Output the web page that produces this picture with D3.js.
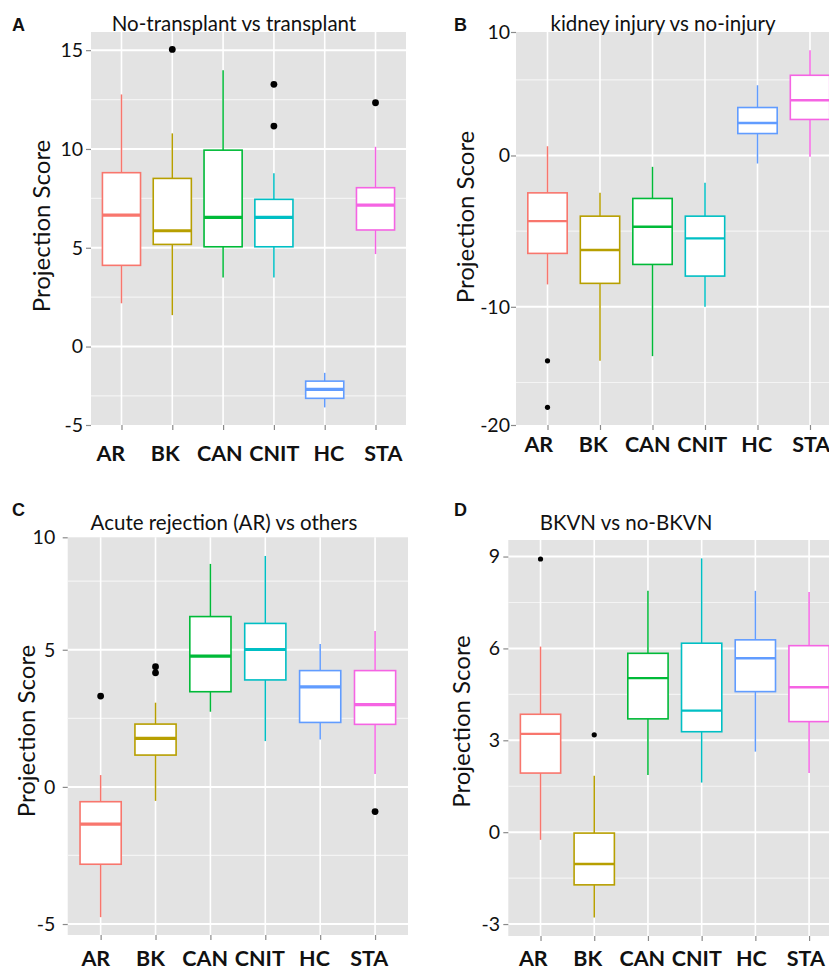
<!DOCTYPE html>
<html><head><meta charset="utf-8">
<script src="https://cdn.jsdelivr.net/npm/d3@7"></script>
<style>
body{margin:0;background:#fff}
svg{display:block}
text{font-family:Lato,"Open Sans",sans-serif;fill:#111}
</style>
</head><body>
<svg id="chart" width="829" height="970"></svg>
<script>
// ---------------- data ----------------
const categories = ["AR", "BK", "CAN", "CNIT", "HC", "STA"];
const groupColors = ["#F8766D", "#B79F00", "#00BA38", "#00BFC4", "#619CFF", "#F564E3"];
const panelLetters = ["A", "B", "C", "D"];
const panelTitles = ["No-transplant vs transplant", "kidney injury vs no-injury",
                     "Acute rejection (AR) vs others", "BKVN vs no-BKVN"];
const yAxisTitle = "Projection Score";

const yTicksA = [15, 10, 5, 0, -5];
const yTicksB = [10, 0, -10, -20];
const yTicksC = [10, 5, 0, -5];
const yTicksD = [9, 6, 3, 0, -3];

// [lower whisker, Q1, median, Q3, upper whisker] per category
const boxesA = [
  [2.19, 4.11, 6.65, 8.80, 12.76],
  [1.59, 5.17, 5.86, 8.51, 10.79],
  [3.50, 5.05, 6.54, 9.94, 13.99],
  [3.50, 5.05, 6.54, 7.45, 8.77],
  [-3.08, -2.62, -2.17, -1.75, -1.33],
  [4.68, 5.90, 7.16, 8.04, 10.11]];
const outliersA = [["BK", 15.04], ["CNIT", 13.27], ["CNIT", 11.16], ["STA", 12.34]];

const boxesB = [
  [-8.52, -6.47, -4.34, -2.47, 0.61],
  [-13.57, -8.45, -6.25, -4.01, -2.47],
  [-13.26, -7.20, -4.71, -2.84, -0.75],
  [-10.00, -7.97, -5.48, -4.01, -1.81],
  [-0.53, 1.45, 2.15, 3.17, 4.64],
  [-0.09, 2.38, 3.65, 5.30, 6.96]];
const outliersB = [["AR", -13.57], ["AR", -16.64]];

const boxesC = [
  [-4.75, -2.82, -1.36, -0.54, 0.43],
  [-0.51, 1.16, 1.77, 2.29, 3.07],
  [2.74, 3.47, 4.77, 6.21, 8.13],
  [1.67, 3.90, 5.01, 5.96, 8.42],
  [1.73, 2.35, 3.65, 4.24, 5.21],
  [0.47, 2.28, 3.00, 4.24, 5.68]];
const outliersC = [["AR", 3.31], ["BK", 4.38], ["BK", 4.16], ["STA", -0.90]];

const boxesD = [
  [-0.25, 1.93, 3.21, 3.85, 6.06],
  [-2.79, -1.72, -1.04, -0.03, 1.84],
  [1.87, 3.70, 5.03, 5.84, 7.88],
  [1.62, 3.28, 3.97, 6.17, 8.94],
  [2.63, 4.59, 5.68, 6.28, 7.88],
  [1.93, 3.61, 4.73, 6.09, 7.84]];
const outliersD = [["AR", 8.92], ["BK", 3.18]];

// ---------------- layout ----------------
const panels = [
  {boxes: boxesA, outliers: outliersA, ticks: yTicksA,
   x0: 91, x1: 406, y0: 32, y1: 425, dom: [-3.97, 15.92],
   letter: [12, 30.5], title: [234, 30.5], ytitle: [49.5, 226], tickPad: 3,
   lab: [110.8, 383.3], labY: 461, medW: 3.2, r: 3.4},
  {boxes: boxesB, outliers: outliersB, ticks: yTicksB,
   x0: 516, x1: 841.5, y0: 32, y1: 425, dom: [-17.81, 8.16],
   letter: [454, 30.5], title: [663, 30.5], ytitle: [473.5, 217], tickPad: 1,
   lab: [538.8, 811.2], labY: 451.5, medW: 2.4, r: 2.6},
  {boxes: boxesC, outliers: outliersC, ticks: yTicksC,
   x0: 67.7, x1: 408, y0: 537.3, y1: 935, dom: [-5.40, 9.10],
   letter: [12, 515.5], title: [224, 530], ytitle: [35, 731], tickPad: 7.5,
   lab: [95.8, 369.2], labY: 965.5, medW: 3.2, r: 3.4},
  {boxes: boxesD, outliers: outliersD, ticks: yTicksD,
   x0: 508.3, x1: 841.3, y0: 540, y1: 936, dom: [-3.39, 9.54],
   letter: [454, 516], title: [626, 530], ytitle: [470, 721.5], tickPad: 3.3,
   lab: [533.3, 805.8], labY: 965.5, medW: 2.4, r: 2.6}
];

const svg = d3.select("#chart");
const panelBg = "#E3E3E3";
const tickColor = "#8a8a8a";

panels.forEach((p, i) => {
  const g = svg.append("g");
  const x = d3.scalePoint().domain(categories).range([p.x0, p.x1]).padding(0.6);
  const y = d3.scaleLinear().domain(p.dom).range([p.y1, p.y0]);
  const yTick = y.copy().clamp(true);
  const bw = x.step() * 0.75;

  // panel background
  g.append("rect").attr("x", p.x0).attr("y", p.y0)
    .attr("width", p.x1 - p.x0).attr("height", p.y1 - p.y0).attr("fill", panelBg);

  // minor gridlines (midpoints between major breaks)
  const sorted = p.ticks.slice().sort((a, b) => a - b);
  const minor = d3.pairs(sorted).map(([a, b]) => (a + b) / 2)
    .filter(v => v > p.dom[0] && v < p.dom[1]);
  g.selectAll(".minor").data(minor).join("line")
    .attr("x1", p.x0).attr("x2", p.x1)
    .attr("y1", d => y(d)).attr("y2", d => y(d))
    .attr("stroke", "#f4f4f4").attr("stroke-width", 1.2);
  // major gridlines
  const major = p.ticks.filter(v => v > p.dom[0] && v < p.dom[1]);
  g.selectAll(".major").data(major).join("line")
    .attr("x1", p.x0).attr("x2", p.x1)
    .attr("y1", d => y(d)).attr("y2", d => y(d))
    .attr("stroke", "#fff").attr("stroke-width", 2);
  g.selectAll(".vgrid").data(categories).join("line")
    .attr("x1", d => x(d)).attr("x2", d => x(d))
    .attr("y1", p.y0).attr("y2", p.y1)
    .attr("stroke", "#fff").attr("stroke-width", 1.6);

  // boxplots
  const bx = g.selectAll(".box").data(p.boxes).join("g");
  bx.append("line")
    .attr("x1", (d, j) => x(categories[j])).attr("x2", (d, j) => x(categories[j]))
    .attr("y1", d => y(d[0])).attr("y2", d => y(d[4]))
    .attr("stroke", (d, j) => groupColors[j]).attr("stroke-width", 1.5);
  bx.append("rect")
    .attr("x", (d, j) => x(categories[j]) - bw / 2).attr("width", bw)
    .attr("y", d => y(d[3])).attr("height", d => y(d[1]) - y(d[3]))
    .attr("fill", "#fff").attr("stroke", (d, j) => groupColors[j]).attr("stroke-width", 1.6);
  bx.append("line")
    .attr("x1", (d, j) => x(categories[j]) - bw / 2).attr("x2", (d, j) => x(categories[j]) + bw / 2)
    .attr("y1", d => y(d[2])).attr("y2", d => y(d[2]))
    .attr("stroke", (d, j) => groupColors[j]).attr("stroke-width", p.medW);

  // outliers
  g.selectAll(".out").data(p.outliers).join("circle")
    .attr("cx", d => x(d[0])).attr("cy", d => y(d[1])).attr("r", p.r).attr("fill", "#000");

  // y axis
  const ya = g.append("g").attr("transform", `translate(${p.x0},0)`)
    .call(d3.axisLeft(yTick).tickValues(p.ticks).tickSize(5).tickPadding(p.tickPad).tickFormat(d => String(d)));
  ya.select(".domain").remove();
  ya.selectAll("line").attr("stroke", tickColor).attr("stroke-width", 1.2);
  ya.selectAll("text").style("font-size", "19.5px").attr("fill", "#111");

  // x axis ticks
  const xa = g.append("g").attr("transform", `translate(0,${p.y1})`)
    .call(d3.axisBottom(x).tickSize(5).tickFormat(""));
  xa.select(".domain").remove();
  xa.selectAll("line").attr("stroke", tickColor).attr("stroke-width", 1.2);

  // x labels
  const xl = d3.scalePoint().domain(categories).range(p.lab);
  g.selectAll(".xl").data(categories).join("text")
    .attr("x", d => xl(d)).attr("y", p.labY).attr("text-anchor", "middle")
    .style("font-size", "21.5px").style("font-weight", "bold").text(d => d);

  // titles
  g.append("text").attr("x", p.letter[0]).attr("y", p.letter[1])
    .style("font-family", "'Liberation Sans', Arial, sans-serif")
    .style("font-size", "18px").style("font-weight", "bold").text(panelLetters[i]);
  g.append("text").attr("x", p.title[0]).attr("y", p.title[1]).attr("text-anchor", "middle")
    .style("font-size", "20.5px").text(panelTitles[i]);
  g.append("text").attr("transform", `translate(${p.ytitle[0]},${p.ytitle[1]}) rotate(-90)`)
    .attr("text-anchor", "middle").style("font-size", "24px").text(yAxisTitle);
});
</script>
</body></html>
